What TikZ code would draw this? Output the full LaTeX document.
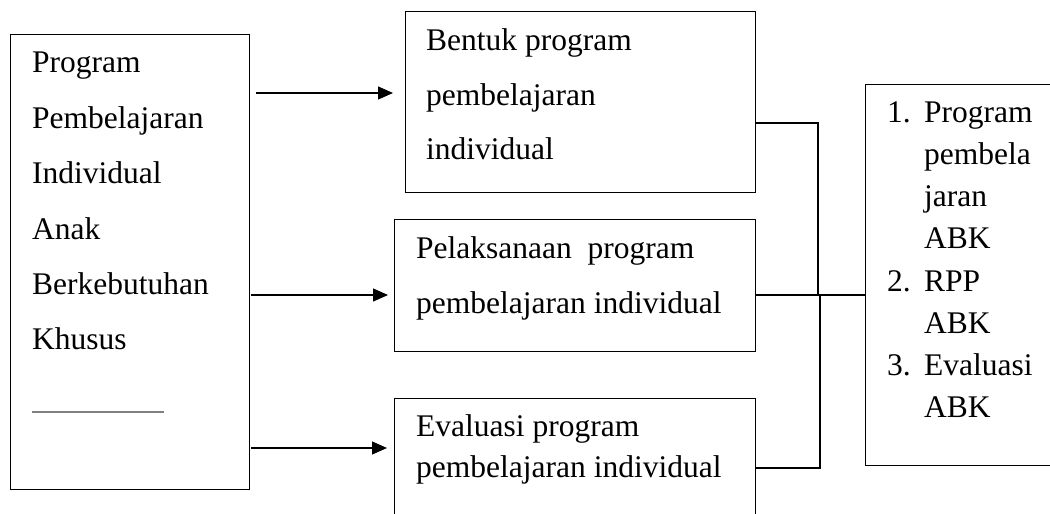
\documentclass[tikz,border=0pt]{standalone}
\usepackage{fontspec}
\setmainfont{Liberation Serif}
\usetikzlibrary{calc,arrows.meta}

\begin{document}
\begin{tikzpicture}[x=1pt,y=-1pt,kotak/.style={draw, line width=1.2pt, inner sep=0pt, anchor=north west},
tulisan/.style={anchor=north west, inner sep=0pt, align=left},
panah/.style={line width=1.2pt, -{Triangle[length=15pt,width=13pt]}},
garis/.style={line width=1.2pt}
]
\useasboundingbox (0,0) rectangle (1050,514);
\node[kotak, minimum width=239pt, minimum height=455pt] (prog) at (10,34) {};
\node[kotak, minimum width=350pt, minimum height=181pt] (bentuk) at (405,11) {};
\node[kotak, minimum width=361pt, minimum height=132pt] (pelaks) at (394,219) {};
\node[kotak, minimum width=361pt, minimum height=130pt] (evaluasi) at (394,398) {};
\node[kotak, minimum width=200pt, minimum height=381pt] (hasil) at (865,84) {};

\node[tulisan, font=\fontsize{31.5}{55.4}\selectfont] (prog-t) at (32,52.1) {Program\\Pembelajaran\\Individual\\Anak\\Berkebutuhan\\Khusus};
\draw[gray, line width=1.3pt] (32,412) -- (164,412);
\node[tulisan, font=\fontsize{31.5}{54.5}\selectfont] (bentuk-t) at (426,28.5) {Bentuk program\\pembelajaran\\individual};
\node[tulisan, font=\fontsize{31.5}{55}\selectfont] (pelaks-t) at (416,236.5) {Pelaksanaan~ program\\pembelajaran individual};
\node[tulisan, font=\fontsize{31.5}{41}\selectfont] (evaluasi-t) at (416,414.5) {Evaluasi program\\pembelajaran individual};
\node[tulisan, font=\fontsize{31.5}{42.1}\selectfont] (hasil-t) at (887,101.7) {\makebox[37pt][l]{1.}Program\\\hspace*{37pt}pembela\\\hspace*{37pt}jaran\\\hspace*{37pt}ABK\\
\makebox[37pt][l]{2.}RPP\\\hspace*{37pt}ABK\\\makebox[37pt][l]{3.}Evaluasi\\\hspace*{37pt}ABK};

\coordinate (y1) at (0,93);
\coordinate (y2) at (0,295);
\coordinate (y3) at (0,448);
\draw[panah] ($(prog.east |- y1)+(6,0)$) -- ($(bentuk.west |- y1)+(-12,0)$);
\draw[panah] ($(prog.east |- y2)+(1,0)$) -- ($(pelaks.west |- y2)+(-6,0)$);
\draw[panah] ($(prog.east |- y3)+(1,0)$) -- ($(evaluasi.west |- y3)+(-7,0)$);

\coordinate (j1) at (818,123);
\coordinate (j2) at (819,295);
\coordinate (j3) at (820,468);
\draw[garis] (bentuk.east |- j1) -- (j1) -- (j1 |- j2);
\draw[garis] (pelaks.east |- j2) -- (hasil.west |- j2);
\draw[garis] (evaluasi.east |- j3) -- (j3) -- (j3 |- j2);
\end{tikzpicture}
\end{document}
